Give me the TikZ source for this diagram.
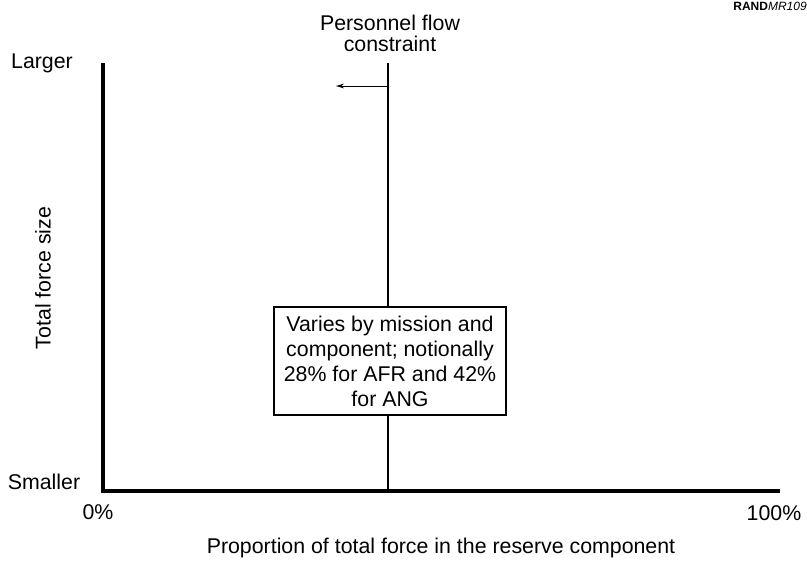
\documentclass[tikz,border=0pt]{standalone}
\usepackage{fontspec}
\setmainfont{Liberation Sans}
\usetikzlibrary{arrows.meta}
\newcommand{\labelfont}{\fontsize{16}{15.75}\selectfont}
\newcommand{\boxfont}{\fontsize{16}{18.75}\selectfont}
\newcommand{\widthnote}{174pt}
\newcommand{\heightnote}{81pt}
\tikzset{
    lbl/.style={inner sep=0pt, font=\labelfont},
    axis/.style={line width=3pt, line join=miter},
    flowline/.style={line width=2.2pt},
    note/.style={draw, line width=0.9pt, fill=white, align=center, font=\boxfont,
        minimum width=\widthnote, minimum height=\heightnote, inner sep=0pt},
    push/.style={line width=0.7pt, -{Stealth[length=6pt, width=3.5pt]}}
}
\begin{document}
\begin{tikzpicture}[x=0.75pt, y=-0.75pt]
    \useasboundingbox (0,0) rectangle (807,562);

    % axes
    \coordinate (ytop) at (103,63);
    \coordinate (origin) at (103,491);
    \coordinate (xend) at (780,491);
    \draw[axis] (ytop) -- (origin) -- (xend);

    % constraint line and its push to the left
    \coordinate (flowtop) at (388,63);
    \coordinate (flowbot) at (388,491);
    \coordinate (flowmid) at (388,86);
    \coordinate (pushend) at (336,86);
    \draw[flowline] (flowtop) -- (flowbot);
    \draw[push] (flowmid) -- (pushend);

    \node[note] (varies) at (390,361)
        {Varies by mission and\\component; notionally\\28\% for AFR and 42\%\\for ANG};

    % labels
    \node[lbl, align=center] (flowtitle) at (390,33) {Personnel flow\\constraint};
    \node[lbl] (larger) at (42,63) {Larger};
    \node[lbl] (smaller) at (44,482) {Smaller};
    \node[lbl, rotate=90] (ytitle) at (43,278) {Total force size};
    \node[lbl] (zero) at (98,512) {0\%};
    \node[lbl] (hundred) at (774,513) {100\%};
    \node[lbl] (xtitle) at (441,548) {Proportion of total force in the reserve component};
    \node[inner sep=0pt, anchor=east, font=\fontsize{9}{10}\selectfont] (randtag) at (807,6)
        {\textbf{RAND}\textit{MR109}};
\end{tikzpicture}
\end{document}
